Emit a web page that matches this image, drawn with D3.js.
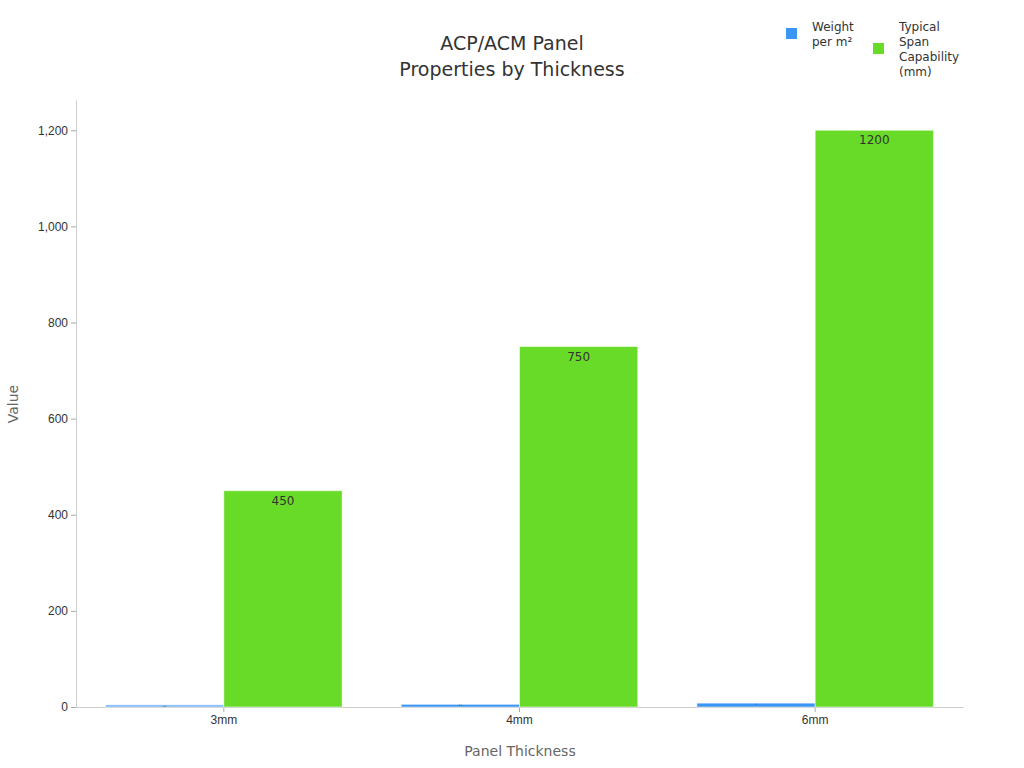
<!DOCTYPE html>
<html><head><meta charset="utf-8">
<script src="https://cdn.jsdelivr.net/npm/d3@7"></script>
<style>body{margin:0;background:#fff;font-family:"DejaVu Sans",sans-serif}</style>
</head><body>
<script>
var categories = ['3mm', '4mm', '6mm'];
var seriesNames = ['Weight per m²', 'Typical Span Capability (mm)'];
var weightValues = [4.5, 5.5, 8];
var spanValues = [450, 750, 1200];
var yTicks = [0, 200, 400, 600, 800, 1000, 1200];
var colors = ['#3a96f5', '#67db27'];

var W = 1024, H = 768;
var margin = {top: 100, right: 61, bottom: 61, left: 76};
var svg = d3.select('body').append('svg').attr('width', W).attr('height', H);

var x = d3.scaleBand().domain(categories).range([margin.left, W - margin.right]).paddingInner(0.2).paddingOuter(0.1);
var y = d3.scaleLinear().domain([0, 1263]).range([H - margin.bottom, margin.top]);
var xs = d3.scaleBand().domain([0, 1]).range([0, x.bandwidth()]);

var gy = svg.append('g').attr('transform', 'translate(' + margin.left + ',0)')
  .call(d3.axisLeft(y).tickValues(yTicks).tickSizeInner(5).tickSizeOuter(0));
gy.select('.domain').attr('stroke', '#ccc');
gy.selectAll('line').attr('stroke', '#aaa');
gy.selectAll('text').style('font-size', '12px').attr('fill', '#333');

var gx = svg.append('g').attr('transform', 'translate(0,' + (H - margin.bottom) + ')')
  .call(d3.axisBottom(x).tickSizeInner(5).tickSizeOuter(0));
gx.select('.domain').attr('stroke', '#ccc');
gx.selectAll('line').attr('stroke', '#aaa');
gx.selectAll('text').style('font-size', '12px').attr('fill', '#333');

var series = [weightValues, spanValues];
series.forEach(function (vals, s) {
  var g = svg.append('g');
  vals.forEach(function (v, i) {
    var bx = x(categories[i]) + xs(s);
    g.append('rect').attr('x', bx).attr('y', y(v)).attr('width', xs.bandwidth())
      .attr('height', y(0) - y(v)).attr('fill', colors[s])
      .attr('fill-opacity', s === 0 && i === 0 ? 0.7 : 1)
      .attr('stroke', '#fff').attr('stroke-opacity', 0.5);
    g.append('text').attr('x', bx + xs.bandwidth() / 2)
      .attr('y', s === 1 ? y(v) + 14 : y(v) + 2)
      .attr('text-anchor', 'middle').attr('fill', '#333')
      .style('font-size', s === 1 ? '12px' : '2px').text(v);
  });
});

svg.append('text').attr('x', 512).attr('y', 50).attr('text-anchor', 'middle')
  .style('font-size', '19px').attr('fill', '#333').text('ACP/ACM Panel');
svg.append('text').attr('x', 512).attr('y', 76).attr('text-anchor', 'middle')
  .style('font-size', '19px').attr('fill', '#333').text('Properties by Thickness');
svg.append('text').attr('x', 520).attr('y', 756).attr('text-anchor', 'middle')
  .style('font-size', '14px').attr('fill', '#666').text('Panel Thickness');
svg.append('text').attr('transform', 'translate(18,404) rotate(-90)').attr('text-anchor', 'middle')
  .style('font-size', '14px').attr('fill', '#666').text('Value');

var legend = [
  {x: 786, y: 33, lines: ['Weight', 'per m²']},
  {x: 873, y: 48, lines: ['Typical', 'Span', 'Capability', '(mm)']}
];
legend.forEach(function (l, i) {
  svg.append('rect').attr('x', l.x).attr('y', l.y - 5).attr('width', 11).attr('height', 11).attr('fill', colors[i]);
  var t = svg.append('text').attr('x', l.x + 26).attr('y', 31).style('font-size', '12px').attr('fill', '#333');
  l.lines.forEach(function (ln, k) {
    t.append('tspan').attr('x', l.x + 26).attr('dy', k ? 15 : 0).text(ln);
  });
});
</script>
</body></html>
